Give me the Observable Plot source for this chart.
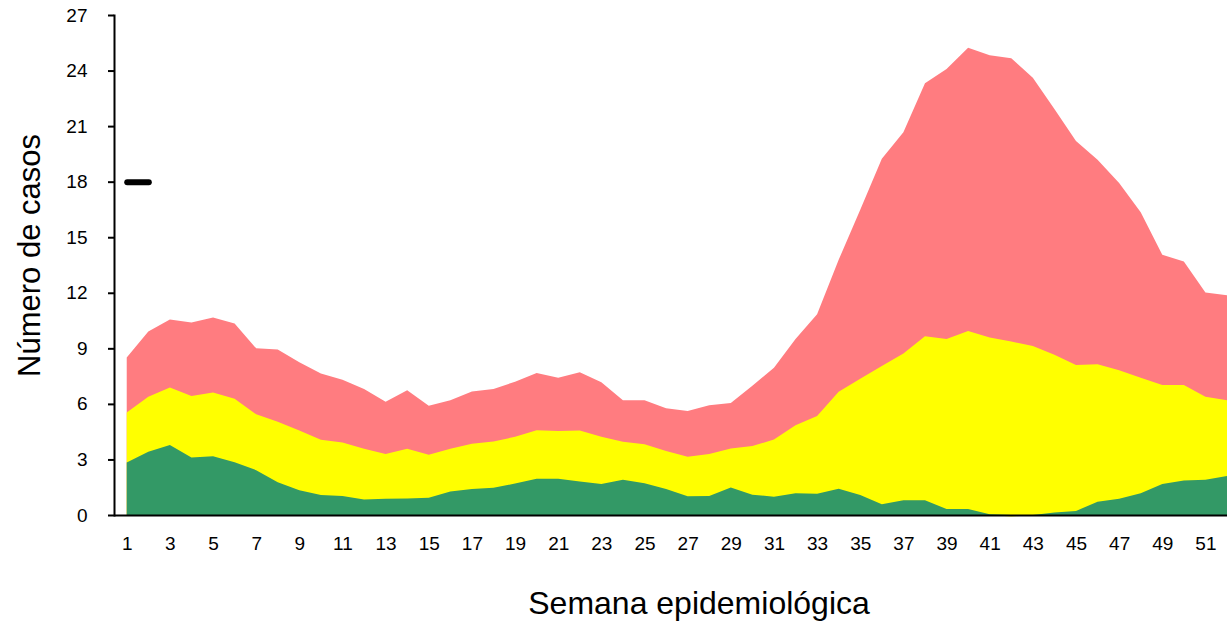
<!DOCTYPE html>
<html><head><meta charset="utf-8">
<script src="https://cdn.jsdelivr.net/npm/d3@7"></script>
<script src="https://cdn.jsdelivr.net/npm/@observablehq/plot@0.6"></script>
<style>body{margin:0;background:#fff;}</style>
</head><body><div id="chart"></div>
<script>
const weeks = [1,2,3,4,5,6,7,8,9,10,11,12,13,14,15,16,17,18,19,20,21,22,23,24,25,26,27,28,29,30,31,32,33,34,35,36,37,38,39,40,41,42,43,44,45,46,47,48,49,50,51,52];
const green = [2.83,3.41,3.78,3.11,3.17,2.85,2.42,1.77,1.34,1.08,
               1.02,0.84,0.88,0.89,0.93,1.27,1.40,1.47,1.70,1.96,
               1.96,1.81,1.68,1.90,1.71,1.40,1.01,1.02,1.49,1.10,
               0.99,1.17,1.15,1.42,1.08,0.58,0.80,0.80,0.32,0.32,
               0.04,-0.08,0.0,0.13,0.22,0.71,0.88,1.17,1.68,1.86,
               1.90,2.10];
const yellow = [5.53,6.39,6.89,6.42,6.61,6.28,5.44,5.03,4.56,4.06,
                3.91,3.58,3.30,3.58,3.26,3.58,3.85,3.97,4.22,4.58,
                4.53,4.56,4.23,3.95,3.82,3.45,3.15,3.30,3.59,3.72,
                4.08,4.84,5.34,6.65,7.36,8.04,8.72,9.65,9.50,9.93,
                9.59,9.37,9.12,8.66,8.10,8.14,7.82,7.41,7.02,7.02,
                6.39,6.20];
const red = [8.51,9.91,10.56,10.39,10.67,10.34,9.00,8.94,8.25,7.64,
             7.30,6.80,6.11,6.74,5.90,6.20,6.67,6.80,7.20,7.67,
             7.41,7.71,7.17,6.20,6.20,5.77,5.62,5.92,6.05,6.98,
             7.95,9.50,10.84,13.78,16.48,19.24,20.67,23.31,24.08,25.23,
             24.82,24.67,23.61,21.92,20.20,19.18,17.93,16.35,14.06,13.69,
             12.01,11.86];
const currentWeeks = [1,2];
const currentCases = [18,18];
const xTicks = [1,3,5,7,9,11,13,15,17,19,21,23,25,27,29,31,33,35,37,39,41,43,45,47,49,51];
const yTicks = [0,3,6,9,12,15,18,21,24,27];

const data = weeks.map((w,i)=>({week:w, green:green[i], yellow:yellow[i], red:red[i]}));
const current = currentWeeks.map((w,i)=>({week:w, cases:currentCases[i]}));

const chart = Plot.plot({
  width:1229, height:627,
  marginLeft:114, marginRight:2, marginTop:15, marginBottom:112,
  style:{fontFamily:"'Liberation Sans', Arial, sans-serif", fontSize:"19px", color:"#000", background:"#fff"},
  x:{domain:[0.41,52]},
  y:{domain:[0,27]},
  marks:[
    Plot.areaY(data, {x:"week", y1:0, y2:"red", fill:"#FF7C80", curve:"linear"}),
    Plot.areaY(data, {x:"week", y1:d=>Math.min(0,d.green), y2:"yellow", fill:"#FFFF00", curve:"linear"}),
    Plot.areaY(data, {x:"week", y1:0, y2:d=>Math.max(0,d.green), fill:"#339966", curve:"linear"}),
    Plot.line(current, {x:"week", y:"cases", stroke:"#000", strokeWidth:6, strokeLinecap:"round"}),
    Plot.ruleY([0], {stroke:"#000", strokeWidth:2}),
    Plot.frame({anchor:"left", stroke:"#000", strokeWidth:2}),
    Plot.axisY({ticks:yTicks, tickSize:6, tickPadding:21, label:null, fontSize:19, stroke:"#000", strokeWidth:2}),
    Plot.axisX({ticks:xTicks, tickSize:0, tickPadding:21, label:null, fontSize:19}),
    Plot.text(["Número de casos"], {text:d=>d, frameAnchor:"left", textAnchor:"middle", dx:-84, dy:-10, rotate:-90, fontSize:31}),
    Plot.text(["Semana epidemiológica"], {text:d=>d, frameAnchor:"bottom", textAnchor:"middle", dx:28, dy:88, fontSize:32, lineAnchor:"middle"})
  ]
});
document.getElementById("chart").appendChild(chart);
</script>
</body></html>
